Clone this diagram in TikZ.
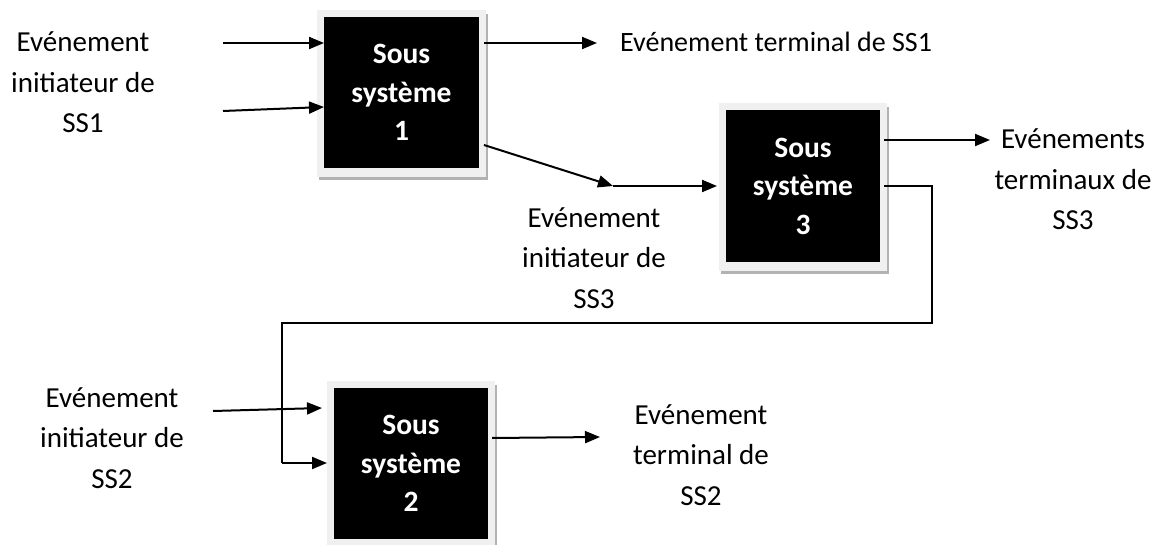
\documentclass[tikz,border=0pt]{standalone}
\usepackage{fontspec}
\setmainfont{Carlito}
\usetikzlibrary{arrows.meta,backgrounds}

\tikzset{
  ssbox/.style={fill=black, text=white, font={\bfseries\fontsize{29.5}{38.5}\selectfont},
    align=center, inner sep=0pt, outer sep=0pt, anchor=north west},
  lbl/.style={font={\fontsize{29}{40.5}\selectfont}, align=center, inner sep=0pt, anchor=base},
  flow/.style={line width=2pt, -{Triangle[length=15pt,width=12pt]}},
  wire/.style={line width=2pt},
}

% light frame with a grey drop edge behind a black box
\newcommand\ssframe[1]{%
  \fill[black!30] ([shift={(-5,-3)}]#1.north west) rectangle ([shift={(9,12)}]#1.south east);
  \fill[black!6] ([shift={(-7,-7)}]#1.north west) rectangle ([shift={(7,9)}]#1.south east);
}

\begin{document}
\begin{tikzpicture}[x=1pt,y=-1pt]
  \useasboundingbox (0,0) rectangle (1161,545);

  % subsystem boxes
  \node[ssbox, minimum width=155pt, minimum height=151pt] (s1) at (324,17) {Sous\\système\\1};
  \node[ssbox, minimum width=154pt, minimum height=152pt] (s3) at (726,110) {Sous\\système\\3};
  \node[ssbox, minimum width=154pt, minimum height=151pt] (s2) at (334,388) {Sous\\système\\2};

  \begin{pgfonlayer}{background}
    \ssframe{s1}
    \ssframe{s3}
    \ssframe{s2}
  \end{pgfonlayer}

  % labels (placed at the baseline of their last line)
  \node[lbl] (i1) at (83,133) {Evénement\\initiateur de\\SS1};
  \node[lbl, anchor=base west, font={\fontsize{28}{40}\selectfont}] (t1) at (620,52) {Evénement terminal de SS1};
  \node[lbl] (i3) at (594,308) {Evénement\\initiateur de\\SS3};
  \node[lbl] (t3) at (1073,230) {Evénements\\terminaux de\\SS3};
  \node[lbl] (i2) at (112,488) {Evénement\\initiateur de\\SS2};
  \node[lbl] (t2) at (701,505) {Evénement\\terminal de\\SS2};

  % free ends of the connectors
  \coordinate (a1) at (223,43);
  \coordinate (a2) at (223,111);
  \coordinate (o1) at (597,43);
  \coordinate (m13) at (613,186);
  \coordinate (o3) at (990,140);
  \coordinate (a4) at (213,411);
  \coordinate (o2) at (600,437);
  \coordinate (k1) at (932,186);
  \coordinate (k2) at (932,323);
  \coordinate (k3) at (282,323);
  \coordinate (k4) at (282,463);

  % subsystem 1
  \draw[flow] (a1) -- (s1.west |- a1);
  \draw[flow] (a2) -- ([shift={(0,90)}]s1.north west);
  \draw[flow] ([xshift=5pt]s1.east |- o1) -- (o1);
  \draw[flow] ([shift={(5,128)}]s1.north east) -- (m13);
  \draw[flow] (m13) -- ([xshift=-9pt]s3.west |- m13);

  % subsystem 3
  \draw[flow] ([xshift=4pt]s3.east |- o3) -- (o3);
  \draw[wire] ([xshift=4pt]s3.east |- k1) -- (k1) -- (k2) -- (k3) -- (k4);
  \draw[flow] (k4) -- ([xshift=-7pt]s2.west |- k4);

  % subsystem 2
  \draw[flow] (a4) -- ([shift={(-12,20)}]s2.north west);
  \draw[flow] ([shift={(4,50)}]s2.north east) -- (o2);
\end{tikzpicture}
\end{document}
